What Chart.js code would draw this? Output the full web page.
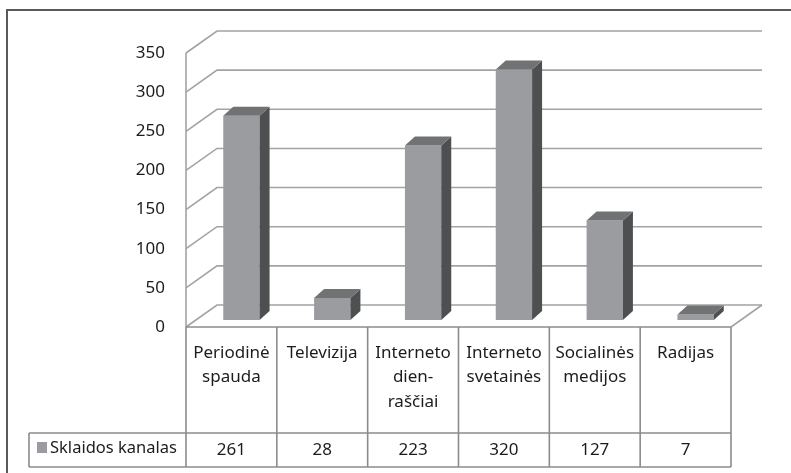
<!DOCTYPE html>
<html>
<head>
<meta charset="utf-8">
<script src="https://cdn.jsdelivr.net/npm/chart.js@4/dist/chart.umd.min.js"></script>
<style>
  html, body { margin: 0; padding: 0; background: #ffffff; }
  #wrap { width: 791px; height: 473px; position: relative; }
</style>
</head>
<body>
<div id="wrap"><canvas id="c" width="791" height="473"></canvas></div>
<script>
const categories = [
  ["Periodinė", "spauda"],
  ["Televizija"],
  ["Interneto", "dien-", "raščiai"],
  ["Interneto", "svetainės"],
  ["Socialinės", "medijos"],
  ["Radijas"]
];
const values = [261, 28, 223, 320, 127, 7];
const seriesName = "Sklaidos kanalas";
const yMin = 0;
const yMax = 350;
const yStep = 50;

const FRONT = "#9b9c9f", SIDE = "#4e4f51", TOP = "#717274";
const GRID = "#a3a3a3", TABLE = "#8c8c8c", TEXT = "#1c1c1c";
const FONT = "'Noto Sans', 'DejaVu Sans', sans-serif";
// 3D geometry
const WALL_DX = 31, WALL_DY = 22;  // floor depth
const BAR_DX = 10, BAR_DY = 7;     // bar front face offset from front plane
const BAR_D_X = 10, BAR_D_Y = 9;   // bar depth

const threeD = {
  id: "threeD",
  beforeDraw(chart) {
    const ctx = chart.ctx;
    ctx.save();
    ctx.fillStyle = "#fff";
    ctx.fillRect(0, 0, chart.width, chart.height);
    ctx.strokeStyle = "#5a5a5a";
    ctx.lineWidth = 2;
    ctx.beginPath();
    ctx.moveTo(7, 480);
    ctx.lineTo(7, 10);
    ctx.lineTo(800, 10);
    ctx.stroke();
    ctx.restore();
  },
  beforeDatasetsDraw(chart) {
    const ctx = chart.ctx;
    const ys = chart.scales.y;
    const ca = chart.chartArea;
    ctx.save();
    ctx.strokeStyle = GRID;
    ctx.lineWidth = 1.6;
    ys.ticks.forEach(t => {
      const fy = ys.getPixelForValue(t.value);
      ctx.beginPath();
      ctx.moveTo(ca.left, fy);
      ctx.lineTo(ca.left + WALL_DX, fy - WALL_DY);
      ctx.lineTo(ca.right + WALL_DX, fy - WALL_DY);
      ctx.stroke();
    });
    const f0 = ys.getPixelForValue(0);
    ctx.beginPath();
    ctx.moveTo(ca.right, f0);
    ctx.lineTo(ca.right + WALL_DX, f0 - WALL_DY);
    ctx.stroke();
    ctx.beginPath();
    ctx.moveTo(ca.left, ys.getPixelForValue(yMax));
    ctx.lineTo(ca.left, f0);
    ctx.stroke();
    ctx.restore();
    ctx.save();
    ctx.translate(BAR_DX, -BAR_DY);
  },
  afterDatasetsDraw(chart) {
    const ctx = chart.ctx;
    ctx.restore();
    const meta = chart.getDatasetMeta(0);
    ctx.save();
    meta.data.forEach(bar => {
      const p = bar.getProps(["x", "y", "base", "width"], true);
      const l = p.x - p.width / 2 + BAR_DX;
      const r = p.x + p.width / 2 + BAR_DX;
      const t = p.y - BAR_DY;
      const b = p.base - BAR_DY;
      ctx.fillStyle = SIDE;
      ctx.beginPath();
      ctx.moveTo(r, t);
      ctx.lineTo(r + BAR_D_X, t - BAR_D_Y);
      ctx.lineTo(r + BAR_D_X, b - BAR_D_Y);
      ctx.lineTo(r, b);
      ctx.closePath();
      ctx.fill();
      ctx.fillStyle = TOP;
      ctx.beginPath();
      ctx.moveTo(l, t);
      ctx.lineTo(l + BAR_D_X, t - BAR_D_Y);
      ctx.lineTo(r + BAR_D_X, t - BAR_D_Y);
      ctx.lineTo(r, t);
      ctx.closePath();
      ctx.fill();
    });
    ctx.restore();
  },
  afterDraw(chart) {
    const ctx = chart.ctx;
    const ca = chart.chartArea;
    const ys = chart.scales.y;
    const xs = chart.scales.x;
    const y0 = ys.getPixelForValue(0);
    const y1 = 433, y2 = 467, legLeft = 29;
    const n = categories.length;
    const cw = (ca.right - ca.left) / n;
    ctx.save();
    ctx.strokeStyle = TABLE;
    ctx.lineWidth = 1.6;
    ctx.beginPath();
    ctx.moveTo(ca.left, y0); ctx.lineTo(ca.right, y0);
    ctx.moveTo(legLeft, y1); ctx.lineTo(ca.right, y1);
    ctx.moveTo(legLeft, y2); ctx.lineTo(ca.right, y2);
    ctx.moveTo(legLeft, y1); ctx.lineTo(legLeft, y2);
    for (let i = 0; i <= n; i++) {
      const x = ca.left + i * cw;
      ctx.moveTo(x, y0); ctx.lineTo(x, y2);
    }
    ctx.stroke();
    ctx.fillStyle = TEXT;
    ctx.font = "17px " + FONT;
    ctx.textAlign = "center";
    ctx.textBaseline = "middle";
    categories.forEach((lines, i) => {
      const cx = xs.getPixelForValue(i);
      lines.forEach((s, k) => ctx.fillText(s, cx, 353 + k * 24.5));
      ctx.fillText(String(values[i]), cx, 450);
    });
    ctx.fillStyle = FRONT;
    ctx.fillRect(37, 442, 10, 11);
    ctx.fillStyle = TEXT;
    ctx.textAlign = "left";
    ctx.font = "16.5px " + FONT;
    ctx.fillText(seriesName, 50, 448);
    ctx.restore();
  }
};

new Chart(document.getElementById("c"), {
  type: "bar",
  data: {
    labels: categories,
    datasets: [{
      label: seriesName,
      data: values,
      backgroundColor: FRONT,
      borderWidth: 0,
      barPercentage: 0.4,
      categoryPercentage: 1.0
    }]
  },
  options: {
    responsive: false,
    animation: false,
    devicePixelRatio: 1,
    layout: { padding: { left: 126, top: 53, right: 60, bottom: 146 } },
    plugins: { legend: { display: false }, tooltip: { enabled: false }, title: { display: false } },
    scales: {
      x: { display: false, offset: true, grid: { display: false } },
      y: {
        min: yMin, max: yMax,
        afterFit(s) { s.width = 60; },
        grid: { display: false, drawTicks: false },
        border: { display: false },
        ticks: {
          stepSize: yStep,
          padding: 21,
          color: TEXT,
          font: { family: FONT, size: 17 }
        }
      }
    }
  },
  plugins: [threeD]
});
</script>
</body>
</html>
